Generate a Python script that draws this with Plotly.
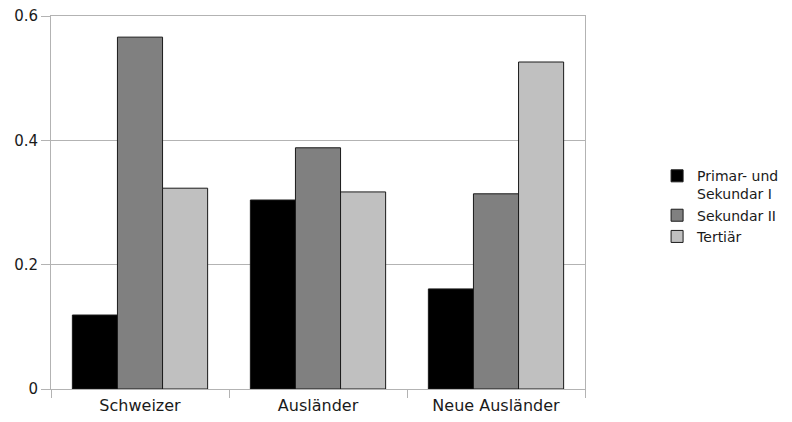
import plotly.graph_objects as go

categories = ["Schweizer", "Ausländer", "Neue Ausländer"]
series_names = ["Primar- und<br>Sekundar I", "Sekundar II", "Tertiär"]
primar = [0.119, 0.304, 0.161]
sekundar2 = [0.566, 0.388, 0.314]
tertiaer = [0.323, 0.317, 0.526]
colors = ["#000000", "#808080", "#c0c0c0"]
y_ticks = [0, 0.2, 0.4, 0.6]
y_tick_labels = ["0", "0.2", "0.4", "0.6"]

fig = go.Figure()
for name, vals, col in zip(series_names, [primar, sekundar2, tertiaer], colors):
    fig.add_trace(go.Bar(
        x=categories, y=vals, name=name,
        marker=dict(color=col, line=dict(color="#1a1a1a", width=1)),
    ))

fig.update_layout(
    width=784, height=414,
    margin=dict(l=43, r=207, t=8, b=33),
    barmode="group",
    bargap=0.24,
    bargroupgap=0,
    plot_bgcolor="white",
    paper_bgcolor="white",
    font=dict(family="DejaVu Sans, sans-serif", size=14, color="#1a1a1a"),
    legend=dict(x=1.135, y=0.49, xanchor="left", yanchor="middle",
                font=dict(size=14), tracegroupgap=0, valign="top"),
    showlegend=True,
)
fig.update_xaxes(
    type="category", tickson="boundaries", ticks="outside", ticklen=8,
    tickcolor="#b3b3b3", showline=True, linecolor="#b3b3b3", linewidth=1,
    mirror=True, showgrid=False, automargin=False,
    tickfont=dict(size=16), ticklabelstandoff=2,
)
fig.update_yaxes(
    range=[0, 0.6], tickvals=y_ticks, ticktext=y_tick_labels,
    ticks="outside", ticklen=9, tickcolor="#b3b3b3",
    showline=True, linecolor="#b3b3b3", linewidth=1, mirror=True,
    showgrid=True, gridcolor="#b3b3b3", gridwidth=1, zeroline=False,
    automargin=False, tickfont=dict(size=15), ticklabeloverflow="allow",
)

fig.write_html("out.html")
